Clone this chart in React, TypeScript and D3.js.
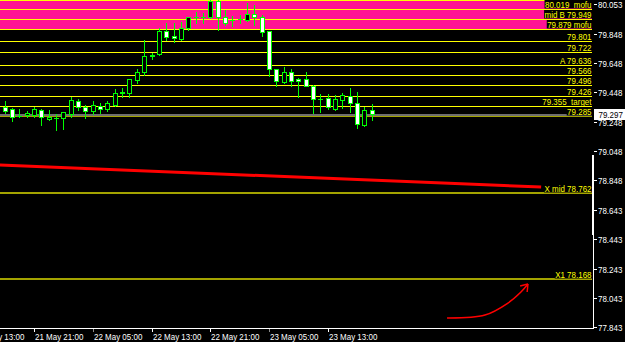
import React, { useEffect, useRef } from 'react';
import * as d3 from 'd3';

const W = 625;
const H = 342;

// ---------- data ----------
const START = Date.UTC(2019, 4, 21, 17); // first H1 candle
const HOUR = 3600e3;

const opens = [
  79.346, 79.334, 79.289, 79.291, 79.295, 79.331, 79.266, 79.276, 79.275, 79.300,
  79.389, 79.350, 79.318, 79.355, 79.334, 79.362, 79.449, 79.446, 79.532, 79.585,
  79.702, 79.708, 79.868, 79.836, 79.813, 79.890, 79.967, 79.965, 79.966, 80.073,
  79.966, 79.944, 79.949, 79.943, 79.984, 79.966, 79.868, 79.606, 79.521, 79.589,
  79.539, 79.539, 79.491, 79.404, 79.407, 79.332, 79.396, 79.425, 79.377, 79.225,
  79.327,
];
const highs = [
  79.389, 79.339, 79.334, 79.320, 79.346, 79.334, 79.327, 79.300, 79.314, 79.418,
  79.403, 79.362, 79.389, 79.377, 79.389, 79.471, 79.478, 79.539, 79.608, 79.806,
  79.715, 79.886, 79.920, 79.920, 79.931, 79.963, 80.000, 79.993, 80.080, 80.080,
  80.011, 79.970, 79.977, 80.057, 80.046, 79.977, 79.870, 79.608, 79.624, 79.608,
  79.544, 79.589, 79.498, 79.435, 79.435, 79.430, 79.446, 79.480, 79.453, 79.346,
  79.368,
];
const lows = [
  79.305, 79.252, 79.279, 79.282, 79.282, 79.225, 79.259, 79.190, 79.197, 79.282,
  79.327, 79.271, 79.300, 79.305, 79.323, 79.355, 79.414, 79.418, 79.514, 79.567,
  79.674, 79.705, 79.806, 79.795, 79.806, 79.875, 79.924, 79.924, 79.960, 79.875,
  79.909, 79.902, 79.924, 79.938, 79.909, 79.833, 79.560, 79.491, 79.514, 79.494,
  79.418, 79.489, 79.305, 79.316, 79.332, 79.327, 79.339, 79.316, 79.202, 79.218,
  79.259,
];
const closes = [
  79.323, 79.282, 79.285, 79.309, 79.334, 79.282, 79.282, 79.274, 79.312, 79.396,
  79.350, 79.323, 79.359, 79.332, 79.377, 79.446, 79.447, 79.537, 79.589, 79.697,
  79.700, 79.868, 79.829, 79.820, 79.890, 79.961, 79.965, 79.967, 80.073, 79.966,
  79.924, 79.942, 79.947, 79.984, 79.961, 79.863, 79.606, 79.528, 79.589, 79.528,
  79.524, 79.491, 79.401, 79.402, 79.350, 79.403, 79.430, 79.373, 79.230, 79.327,
  79.297,
];

const priceTicks = [80.053, 79.848, 79.648, 79.448, 79.248, 79.048, 78.848, 78.643, 78.443, 78.243, 78.043, 77.843];
const timeTicks = [
  '2019-05-21T13:00Z', '2019-05-21T21:00Z', '2019-05-22T05:00Z', '2019-05-22T13:00Z',
  '2019-05-22T21:00Z', '2019-05-23T05:00Z', '2019-05-23T13:00Z',
];

const zoneTop = 80.078;
const zoneBottom = 79.879;

const levelValues = [80.078, 80.019, 79.949, 79.879, 79.801, 79.722, 79.636, 79.566, 79.496, 79.426, 79.355, 79.285, 78.762, 78.168];
const levelLabels = ['', '80.019\u00a0\u00a0mofu', 'mid B 79.949', '79.879 mofu', '79.801', '79.722', 'A 79.636', '79.566', '79.496', '79.426', '79.355\u00a0\u00a0target', '79.285', 'X mid 78.762', 'X1 78.168'];
const olivelevels = [79.285, 78.762, 78.168];

const bidPrice = 79.297;

const midLineTimes = ['2019-05-21T16:21Z', '2019-05-24T18:05Z'];
const midLinePrices = [78.951, 78.801];

const arrowTimes = ['2019-05-24T05:16Z', '2019-05-24T10:26Z', '2019-05-24T13:34Z', '2019-05-24T15:20Z', '2019-05-24T16:17Z'];
const arrowPrices = [77.905, 77.925, 78.007, 78.082, 78.137];

// ---------- component ----------
export default function App() {
  const ref = useRef<SVGSVGElement | null>(null);

  useEffect(() => {
    const svg = d3.select(ref.current);
    svg.selectAll('*').remove();

    const x = d3.scaleUtc().domain([START, START + 50 * HOUR]).range([4.7, 371.7]);
    const y = d3.scaleLinear().domain([77.843, 80.053]).range([327, 4]);

    const plotRight = 592;
    const axisX = 593.5;
    const axisY = 328.5;
    const FONT = 'Liberation Sans, Arial, sans-serif';
    const SX = 0.84;
    const LIME = '#00ff00';
    const YELLOW = '#ffff00';
    const OLIVE = '#a3a300';

    const addText = (
      g: any, tx: number, ty: number, str: string, anchor: string, fill: string, bg?: string,
    ) => {
      const gg = g.append('g').attr('transform', `translate(${tx},${ty}) scale(${SX},1)`);
      const t = gg.append('text')
        .attr('x', 0).attr('y', 0)
        .attr('text-anchor', anchor)
        .attr('font-family', FONT)
        .attr('font-size', 9.5)
        .attr('fill', fill)
        .text(str);
      if (bg) {
        const bb = (t.node() as SVGTextElement).getBBox();
        gg.insert('rect', 'text')
          .attr('x', bb.x - 0.5).attr('y', -7.5)
          .attr('width', bb.width + 1).attr('height', 8.5)
          .attr('fill', bg);
      }
      return gg;
    };

    svg.append('rect').attr('width', W).attr('height', H).attr('fill', '#000');

    // pink zone
    svg.append('rect')
      .attr('x', 0).attr('y', y(zoneTop))
      .attr('width', plotRight)
      .attr('height', y(zoneBottom) - y(zoneTop))
      .attr('fill', '#ff1493');

    // level lines
    const gLev = svg.append('g').attr('shape-rendering', 'crispEdges');
    levelValues.forEach((v) => {
      const isOlive = olivelevels.includes(v);
      const yy = Math.round(y(v)) + (isOlive ? 0 : 0.5);
      gLev.append('line')
        .attr('x1', 0).attr('x2', plotRight)
        .attr('y1', yy).attr('y2', yy)
        .attr('stroke', isOlive ? OLIVE : YELLOW)
        .attr('stroke-width', isOlive ? 2 : 1);
    });

    // bid line
    const by = Math.round(y(bidPrice)) + 0.5;
    svg.append('line')
      .attr('x1', 0).attr('x2', plotRight).attr('y1', by).attr('y2', by)
      .attr('stroke', '#6e6e6e').attr('stroke-width', 2)
      .attr('shape-rendering', 'crispEdges');

    // red mid line
    const midPts = midLineTimes.map((t, i) => [x(new Date(t)), y(midLinePrices[i])] as [number, number]);
    svg.append('path')
      .attr('d', d3.line()(midPts))
      .attr('fill', 'none').attr('stroke', '#ff0000').attr('stroke-width', 3);

    // candles
    const gC = svg.append('g').attr('shape-rendering', 'crispEdges');
    opens.forEach((o, i) => {
      const c = closes[i];
      const cx = Math.round(x(START + i * HOUR)) + 0.5;
      const bull = c > o;
      gC.append('line')
        .attr('x1', cx).attr('x2', cx)
        .attr('y1', Math.round(y(highs[i]))).attr('y2', Math.round(y(lows[i])) + 1)
        .attr('stroke', LIME).attr('stroke-width', 1);
      const top = Math.round(y(Math.max(o, c))) + 0.5;
      const bot = Math.round(y(Math.min(o, c))) + 0.5;
      if (bot - top < 1) {
        gC.append('line')
          .attr('x1', cx - 2.5).attr('x2', cx + 2.5)
          .attr('y1', top).attr('y2', top)
          .attr('stroke', LIME).attr('stroke-width', 1);
      } else {
        gC.append('rect')
          .attr('x', cx - 2).attr('y', top)
          .attr('width', 4).attr('height', bot - top)
          .attr('fill', bull ? '#000' : '#fff')
          .attr('stroke', LIME).attr('stroke-width', 1);
      }
    });

    // level labels
    const gLab = svg.append('g');
    levelValues.forEach((v, i) => {
      if (!levelLabels[i]) return;
      const yy = Math.round(y(v)) - 1.5;
      addText(gLab, 591.5, yy, levelLabels[i], 'end', YELLOW, '#000');
    });

    // arrow annotation
    const arrPts = arrowTimes.map((t, i) => [x(new Date(t)), y(arrowPrices[i])] as [number, number]);
    svg.append('path')
      .attr('d', d3.line().curve(d3.curveCatmullRom)(arrPts))
      .attr('fill', 'none').attr('stroke', '#ff0000').attr('stroke-width', 1.5);
    const tip = arrPts[arrPts.length - 1];
    const prev = arrPts[arrPts.length - 2];
    const ang = Math.atan2(tip[1] - prev[1], tip[0] - prev[0]) + Math.PI;
    [-0.62, 0.62].forEach((da) => {
      svg.append('line')
        .attr('x1', tip[0]).attr('y1', tip[1])
        .attr('x2', tip[0] + 8 * Math.cos(ang + da))
        .attr('y2', tip[1] + 8 * Math.sin(ang + da))
        .attr('stroke', '#ff0000').attr('stroke-width', 1.5);
    });

    // axes
    const gAx = svg.append('g').attr('shape-rendering', 'crispEdges');
    gAx.append('line').attr('x1', 0).attr('x2', axisX + 0.5).attr('y1', axisY).attr('y2', axisY)
      .attr('stroke', '#fff');
    gAx.append('line').attr('x1', axisX).attr('x2', axisX).attr('y1', 235).attr('y2', axisY)
      .attr('stroke', '#fff');
    gAx.append('rect').attr('x', 592).attr('y', 155).attr('width', 2).attr('height', 80)
      .attr('fill', '#fff');

    priceTicks.forEach((p) => {
      const yy = Math.round(y(p)) + 0.5;
      gAx.append('line').attr('x1', axisX).attr('x2', 597).attr('y1', yy).attr('y2', yy)
        .attr('stroke', '#fff');
      addText(svg, 598, yy + 3.5, p.toFixed(3), 'start', '#fff');
    });

    const fmt = d3.utcFormat('%-d %b %H:%M');
    timeTicks.forEach((t) => {
      const d = new Date(t);
      const xx = Math.round(x(d)) + 0.5;
      gAx.append('line').attr('x1', xx).attr('x2', xx).attr('y1', axisY).attr('y2', axisY + 3)
        .attr('stroke', d.getUTCHours() === 5 ? '#8a8a8a' : '#fff');
      addText(svg, xx + 0.5, 339.5, fmt(d), 'start', '#fff');
    });

    // current price box
    const cy = y(bidPrice);
    svg.append('rect').attr('x', 594).attr('y', Math.round(cy) - 5).attr('width', 31).attr('height', 11)
      .attr('fill', '#fff').attr('shape-rendering', 'crispEdges');
    addText(svg, 598.5, Math.round(cy) + 3.5, bidPrice.toFixed(3), 'start', '#000');
  }, []);

  return (
    <svg
      ref={ref}
      width={W}
      height={H}
      style={{ position: 'fixed', left: 0, top: 0, display: 'block', background: '#000' }}
    />
  );
}
